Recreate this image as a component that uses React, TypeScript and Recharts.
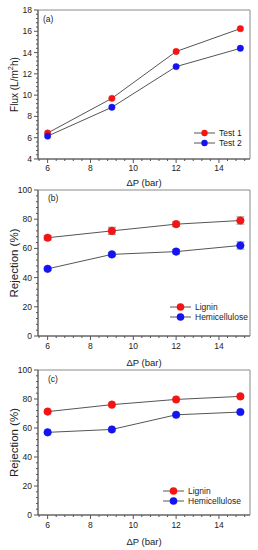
import { ErrorBar, Legend, Line, LineChart, ReferenceArea, XAxis, YAxis } from "recharts";

const PRESSURE = [6, 9, 12, 15];

const FLUX_TEST1 = [6.44, 9.7, 14.1, 16.25];
const FLUX_TEST2 = [6.15, 8.86, 12.68, 14.4];

const REJ_B_LIGNIN = [67.3, 72, 76.6, 79.1];
const REJ_B_LIGNIN_ERR = [1.5, 2.5, 1.5, 2.5];
const REJ_B_HEMI = [46, 55.9, 57.8, 62];
const REJ_B_HEMI_ERR = [1, 1, 1.5, 2.5];

const REJ_C_LIGNIN = [71.3, 76.1, 79.7, 81.8];
const REJ_C_HEMI = [57, 59, 69.1, 71];

const X_MAJOR = [6, 8, 10, 12, 14];
const FLUX_MAJOR = [4, 6, 8, 10, 12, 14, 16, 18];
const REJ_MAJOR = [0, 20, 40, 60, 80, 100];

const X_DOMAIN: [number, number] = [5.55, 15.45];
const RED = "#f41414";
const BLUE = "#1414f0";
const AXIS = "#555";
const FONT = "'Liberation Sans', Arial, sans-serif";

// 5 minor divisions per major step, like the original plotting software
function minorTicks(majors: number[], lo: number, hi: number) {
  const step = (majors[1] - majors[0]) / 5;
  const out: number[] = [];
  let v = majors[0];
  while (v - step >= lo) v -= step;
  for (; v <= hi + 1e-9; v += step) out.push(Math.round(v * 1000) / 1000);
  return out;
}

const isMajor = (majors: number[], v: number) => majors.some((m) => Math.abs(m - v) < 1e-6);

function YTick(props: any) {
  const { x, y, payload, majors, tm, ts } = props;
  const ax = x + tm + ts;
  const major = isMajor(majors, payload.value);
  return (
    <g>
      <line x1={ax - (major ? ts : 2)} x2={ax} y1={y} y2={y} stroke={AXIS} strokeWidth={1} />
      {major && (
        <text x={x} y={y} textAnchor="end" dominantBaseline="central" fontSize={8.5} fill="#222" fontFamily={FONT}>
          {payload.value}
        </text>
      )}
    </g>
  );
}

function XTick(props: any) {
  const { x, y, payload, majors, tm, ts } = props;
  const ay = y - tm - ts;
  const major = isMajor(majors, payload.value);
  return (
    <g>
      <line x1={x} x2={x} y1={ay} y2={ay + (major ? ts : 2)} stroke={AXIS} strokeWidth={1} />
      {major && (
        <text x={x} y={y} dy="0.71em" textAnchor="middle" fontSize={8.5} fill="#222" fontFamily={FONT}>
          {payload.value}
        </text>
      )}
    </g>
  );
}

type Series = { key: string; name: string; values: number[]; errs?: number[]; color: string };

function LegendBox({ items, r }: { items: Series[]; r: number }) {
  return (
    <svg width={90} height={24}>
      {items.map((s, i) => (
        <g key={s.key}>
          <line x1={4} x2={25} y1={6 + i * 10} y2={6 + i * 10} stroke={AXIS} strokeWidth={1} />
          <circle cx={14.5} cy={6 + i * 10} r={r} fill={s.color} />
          <text x={29} y={6 + i * 10} dominantBaseline="central" fontSize={8.5} fill="#222" fontFamily={FONT}>
            {s.name}
          </text>
        </g>
      ))}
    </svg>
  );
}

function Panel({
  top,
  tag,
  tagPos,
  series,
  yDomain,
  yMajor,
  yLabel,
  xHeight,
  xTickMargin,
  titleGap,
  legendPos,
  r,
}: {
  top: number;
  tag: string;
  tagPos: [number, number];
  series: Series[];
  yDomain: [number, number];
  yMajor: number[];
  yLabel: "flux" | "rej";
  xHeight: number;
  xTickMargin: number;
  titleGap: number;
  legendPos: [number, number];
  r: number;
}) {
  const data = PRESSURE.map((p, i) => {
    const row: Record<string, number> = { p };
    for (const s of series) {
      row[s.key] = s.values[i];
      if (s.errs) row[s.key + "Err"] = s.errs[i];
    }
    return row;
  });
  const xTicks = minorTicks(X_MAJOR, X_DOMAIN[0], X_DOMAIN[1]);
  const yTicks = minorTicks(yMajor, yDomain[0], yDomain[1]);

  return (
    <div style={{ position: "absolute", left: 0, top, width: 258, height: 190 }}>
      <LineChart width={258} height={190} data={data} margin={{ top: 10, right: 8, left: 0, bottom: 0 }}>
        <XAxis
          type="number"
          dataKey="p"
          domain={X_DOMAIN}
          ticks={xTicks}
          interval={0}
          height={xHeight}
          tickSize={4}
          tickMargin={xTickMargin}
          tickLine={false}
          axisLine={{ stroke: AXIS }}
          tick={(p: any) => <XTick {...p} majors={X_MAJOR} tm={xTickMargin} ts={4} />}
          label={(p: any) => {
            const vb = p.viewBox;
            return (
              <text x={vb.x + vb.width / 2} y={vb.y + titleGap} textAnchor="middle" dominantBaseline="central" fontSize={9.5} fill="#222" fontFamily={FONT}>
                ΔP (bar)
              </text>
            );
          }}
        />
        <YAxis
          type="number"
          domain={yDomain}
          ticks={yTicks}
          interval={0}
          width={38}
          tickSize={4}
          tickMargin={2}
          tickLine={false}
          axisLine={{ stroke: AXIS }}
          tick={(p: any) => <YTick {...p} majors={yMajor} tm={2} ts={4} />}
          label={(p: any) => {
            const vb = p.viewBox;
            const cx = 14;
            const cy = vb.y + vb.height / 2;
            return (
              <text x={cx} y={cy} textAnchor="middle" dominantBaseline="central" transform={`rotate(-90 ${cx} ${cy})`} fontSize={yLabel === "flux" ? 10 : 11.5} fill="#222" fontFamily={FONT}>
                {yLabel === "flux" ? (
                  <>
                    <tspan>Flux (L/m</tspan>
                    <tspan dy={-4} fontSize={7.5}>2</tspan>
                    <tspan dy={4}>h)</tspan>
                  </>
                ) : (
                  "Rejection (%)"
                )}
              </text>
            );
          }}
        />
        <ReferenceArea x1={X_DOMAIN[0]} x2={X_DOMAIN[1]} y1={yDomain[0]} y2={yDomain[1]} fill="none" stroke="#8a8a8a" strokeWidth={1} />
        {series.map((s) => (
          <Line
            key={s.key}
            dataKey={s.key}
            name={s.name}
            stroke={AXIS}
            strokeWidth={1}
            dot={{ r, fill: s.color, stroke: s.color, strokeWidth: 0.5 }}
            isAnimationActive={false}
          >
            {s.errs && <ErrorBar dataKey={s.key + "Err"} direction="y" width={4} stroke="#999" strokeWidth={1} isAnimationActive={false} />}
          </Line>
        ))}
        <Legend
          layout="vertical"
          align="center"
          verticalAlign="middle"
          wrapperStyle={{ left: legendPos[0], top: legendPos[1], width: 90, height: 24 }}
          content={() => <LegendBox items={series} r={r} />}
        />
        <text x={tagPos[0]} y={tagPos[1]} dominantBaseline="central" fontSize={8.5} fill="#222" fontFamily={FONT}>
          {tag}
        </text>
      </LineChart>
    </div>
  );
}

export default function App() {
  return (
    <div style={{ position: "absolute", left: 0, top: 0, width: 258, height: 550, background: "#fff", overflow: "hidden" }}>
      <Panel
        top={0}
        tag="(a)"
        tagPos={[43, 19]}
        series={[
          { key: "t1", name: "Test 1", values: FLUX_TEST1, color: RED },
          { key: "t2", name: "Test 2", values: FLUX_TEST2, color: BLUE },
        ]}
        yDomain={[4, 18]}
        yMajor={FLUX_MAJOR}
        yLabel="flux"
        xHeight={31}
        xTickMargin={2}
        titleGap={23}
        legendPos={[190, 127]}
        r={3.2}
      />
      <Panel
        top={180}
        tag="(b)"
        tagPos={[48, 18]}
        series={[
          { key: "lig", name: "Lignin", values: REJ_B_LIGNIN, errs: REJ_B_LIGNIN_ERR, color: RED },
          { key: "hem", name: "Hemicellulose", values: REJ_B_HEMI, errs: REJ_B_HEMI_ERR, color: BLUE },
        ]}
        yDomain={[0, 100]}
        yMajor={REJ_MAJOR}
        yLabel="rej"
        xHeight={34}
        xTickMargin={3}
        titleGap={26}
        legendPos={[166, 121]}
        r={3.8}
      />
      <Panel
        top={360}
        tag="(c)"
        tagPos={[48, 19]}
        series={[
          { key: "lig", name: "Lignin", values: REJ_C_LIGNIN, color: RED },
          { key: "hem", name: "Hemicellulose", values: REJ_C_HEMI, color: BLUE },
        ]}
        yDomain={[0, 100]}
        yMajor={REJ_MAJOR}
        yLabel="rej"
        xHeight={35}
        xTickMargin={3}
        titleGap={26}
        legendPos={[159, 125]}
        r={3.8}
      />
    </div>
  );
}
